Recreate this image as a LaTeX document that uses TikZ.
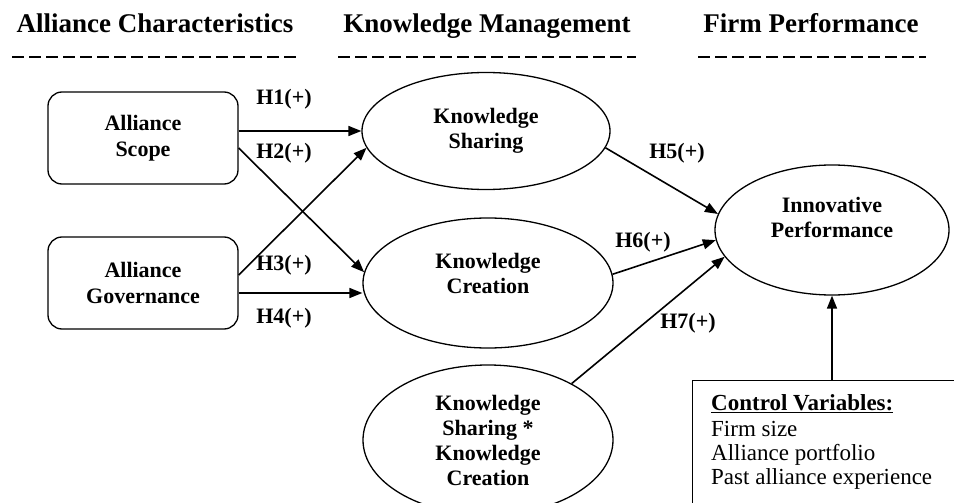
\documentclass[tikz,border=0pt]{standalone}
\usepackage{fontspec}
\setmainfont{Liberation Serif}
\usetikzlibrary{arrows.meta,shapes.geometric}

\begin{document}
\begin{tikzpicture}[x=1pt,y=-1pt,
    header/.style={font=\bfseries\fontsize{27}{30}\selectfont, inner sep=0pt, anchor=base},
    dashline/.style={line width=2.8pt, dash pattern=on 11.5pt off 5.5pt},
    box/.style={draw, rounded corners=14pt, line width=1.3pt, minimum width=190pt,
        minimum height=92pt, align=center, font=\bfseries\fontsize{22}{26}\selectfont},
    oval/.style={draw, ellipse, line width=1.3pt, inner sep=0pt, align=center,
        font=\bfseries\fontsize{22}{25}\selectfont},
    hyp/.style={font=\bfseries\fontsize{22}{26}\selectfont, inner sep=0pt},
    arr/.style={-{Triangle[length=13pt,width=10pt]}, line width=1.6pt}]
    \useasboundingbox (0,0) rectangle (954,503);

    % column headers
    \node[header] (hdalliance) at (155,33) {Alliance Characteristics};
    \node[header] (hdknow) at (487,33) {Knowledge Management};
    \node[header] (hdfirm) at (811,33) {Firm Performance};
    \draw[dashline] (12,57) -- (297,57);
    \draw[dashline] (338,57) -- (636,57);
    \draw[dashline] (698,57) -- (926,57);

    % constructs
    \node[box] (scope) at (143,138) {Alliance\\Scope};
    \node[box] (govern) at (143,283) {Alliance\\Governance};
    \node[oval, minimum width=248pt, minimum height=117pt] (sharing) at (486,131) {Knowledge\\Sharing};
    \node[oval, minimum width=250pt, minimum height=130pt] (creation) at (488,283) {Knowledge\\Creation\\[-6pt]\mbox{}};
    \node[oval, minimum width=250pt, minimum height=150pt] (inter) at (488,440) {Knowledge\\Sharing *\\Knowledge\\Creation};
    \node[oval, minimum width=234pt, minimum height=130pt] (innov) at (832,230) {Innovative\\Performance\\\mbox{}};

    \node[draw, line width=1.3pt, anchor=north west, minimum width=300pt, minimum height=160pt] (control) at (692,380) {};
    \node[anchor=north west, align=left, inner sep=0pt, font=\fontsize{23}{24}\selectfont] (ctrltext) at (711,394)
        {\textbf{\underline{Control Variables:}}\\[2pt]Firm size\\Alliance portfolio\\Past alliance experience};

    % hypotheses
    \draw[arr] (scope.east |- sharing.west) -- (sharing.west);
    \draw[arr] ([yshift=-10pt]scope.east) -- (creation.175);
    \draw[arr] ([yshift=8pt]govern.east) -- (sharing.188);
    \draw[arr] ([yshift=-10pt]govern.east) -- ([yshift=-10pt]govern.east -| creation.west);
    \draw[arr] (sharing.-8) -- (innov.172);
    \draw[arr] (creation.4) -- (innov.185);
    \draw[arr] (inter.34) -- (innov.194);
    \draw[arr] (innov.south |- control.north) -- (innov.south);

    \node[hyp] (h1) at (284,99) {H1(+)};
    \node[hyp] (h2) at (284,153) {H2(+)};
    \node[hyp] (h3) at (284,265) {H3(+)};
    \node[hyp] (h4) at (284,318) {H4(+)};
    \node[hyp] (h5) at (677,153) {H5(+)};
    \node[hyp] (h6) at (643,242) {H6(+)};
    \node[hyp] (h7) at (688,323) {H7(+)};
\end{tikzpicture}
\end{document}
